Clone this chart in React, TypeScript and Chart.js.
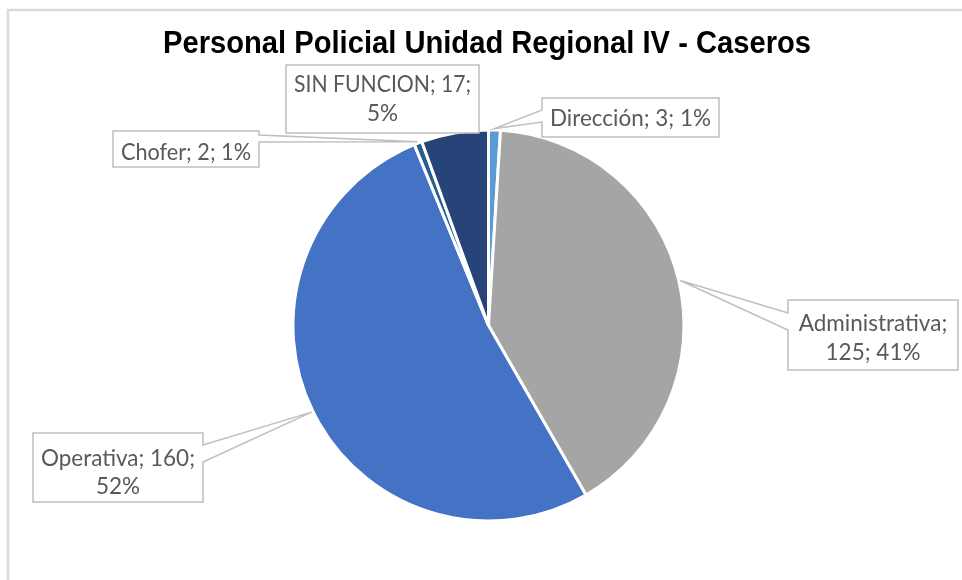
import React, { useEffect, useRef } from 'react';
import { Chart, registerables } from 'chart.js';

Chart.register(...registerables);

const TITLE = 'Personal Policial Unidad Regional IV - Caseros';
const categories = ['Dirección', 'Administrativa', 'Operativa', 'Chofer', 'SIN FUNCION'];
const values = [3, 125, 160, 2, 17];
const percentLabels = ['1%', '41%', '52%', '1%', '5%'];
const colors = ['#5B9BD5', '#A5A5A5', '#4472C4', '#255E91', '#264478'];

type Ptr = { side: 'left' | 'right' | 'top' | 'bottom'; a: number; b: number } | null;
type Layout = { box: [number, number, number, number]; split: number; baselines: number[]; pointer: Ptr };

const labelLayout: Layout[] = [
  { box: [542, 98, 177, 39], split: 3, baselines: [126], pointer: { side: 'left', a: 12, b: 24 } },
  { box: [788, 300, 170, 70], split: 1, baselines: [331, 360], pointer: { side: 'left', a: 13, b: 30 } },
  { box: [33, 433, 170, 69], split: 2, baselines: [466, 494], pointer: { side: 'right', a: 12, b: 29 } },
  { box: [113, 131, 146, 36], split: 3, baselines: [160], pointer: { side: 'right', a: 4, b: 11 } },
  { box: [286, 65, 193, 68], split: 2, baselines: [92, 121], pointer: null },
];

const LABEL_FONT = '22.5px Lato, "Open Sans", sans-serif';
const TITLE_FONT = 'bold 31px "Liberation Sans", Arial, sans-serif';

function drawCallout(ctx: CanvasRenderingContext2D, L: Layout, ax: number, ay: number) {
  const [x, y, w, h] = L.box;
  const p = L.pointer;
  ctx.beginPath();
  ctx.moveTo(x, y);
  if (p && p.side === 'top') { ctx.lineTo(x + p.a, y); ctx.lineTo(ax, ay); ctx.lineTo(x + p.b, y); }
  ctx.lineTo(x + w, y);
  if (p && p.side === 'right') { ctx.lineTo(x + w, y + p.a); ctx.lineTo(ax, ay); ctx.lineTo(x + w, y + p.b); }
  ctx.lineTo(x + w, y + h);
  if (p && p.side === 'bottom') { ctx.lineTo(x + p.b, y + h); ctx.lineTo(ax, ay); ctx.lineTo(x + p.a, y + h); }
  ctx.lineTo(x, y + h);
  if (p && p.side === 'left') { ctx.lineTo(x, y + p.b); ctx.lineTo(ax, ay); ctx.lineTo(x, y + p.a); }
  ctx.closePath();
  ctx.fillStyle = '#FFFFFF';
  ctx.fill();
  ctx.lineWidth = 1.5;
  ctx.strokeStyle = '#BFBFBF';
  ctx.lineJoin = 'miter';
  ctx.stroke();
}

const decorPlugin = {
  id: 'decor',
  beforeDraw(chart: any) {
    const ctx: CanvasRenderingContext2D = chart.ctx;
    ctx.save();
    ctx.strokeStyle = '#D9D9D9';
    ctx.lineWidth = 2.5;
    ctx.beginPath();
    ctx.moveTo(8, 580);
    ctx.lineTo(8, 10);
    ctx.lineTo(962, 10);
    ctx.stroke();
    ctx.fillStyle = '#000000';
    ctx.font = TITLE_FONT;
    ctx.textAlign = 'center';
    ctx.textBaseline = 'alphabetic';
    ctx.fillText(TITLE, 487, 53, 648);
    ctx.restore();
  },
  afterDraw(chart: any) {
    const ctx: CanvasRenderingContext2D = chart.ctx;
    const meta = chart.getDatasetMeta(0);
    ctx.save();
    labelLayout.forEach((L, i) => {
      const arc = meta.data[i];
      const { x, y, startAngle, endAngle, outerRadius } = arc.getProps(['x', 'y', 'startAngle', 'endAngle', 'outerRadius'], true);
      const mid = (startAngle + endAngle) / 2;
      const r = outerRadius + 1.5;
      const ax = x + Math.cos(mid) * r;
      const ay = y + Math.sin(mid) * r;
      drawCallout(ctx, L, ax, ay);
      const parts = [categories[i] + ';', values[i] + ';', percentLabels[i]];
      const lines = [parts.slice(0, L.split).join(' '), parts.slice(L.split).join(' ')].filter((s) => s.length > 0);
      ctx.fillStyle = '#595959';
      ctx.font = LABEL_FONT;
      ctx.textAlign = 'center';
      ctx.textBaseline = 'alphabetic';
      const cx = L.box[0] + L.box[2] / 2;
      lines.forEach((line, j) => {
        ctx.fillText(line, cx, L.baselines[j], L.box[2] - 16);
      });
    });
    ctx.restore();
  },
};

export default function App() {
  const ref = useRef<HTMLCanvasElement | null>(null);
  useEffect(() => {
    let chart: Chart | null = null;
    let cancelled = false;
    const make = () => {
      if (cancelled || !ref.current) return;
      chart = new Chart(ref.current, {
        type: 'pie',
        data: {
          labels: categories,
          datasets: [
            {
              data: values,
              backgroundColor: colors,
              borderColor: '#FFFFFF',
              borderWidth: 3,
            },
          ],
        },
        options: {
          responsive: false,
          maintainAspectRatio: false,
          animation: false,
          layout: { padding: { left: 291.5, right: 276.5, top: 128.5, bottom: 57.5 } },
          plugins: {
            legend: { display: false },
            tooltip: { enabled: false },
            title: { display: false },
          },
        },
        plugins: [decorPlugin],
      } as any);
    };
    const fontsApi = (document as any).fonts;
    if (fontsApi && fontsApi.load) {
      Promise.all([fontsApi.load(LABEL_FONT), fontsApi.load(TITLE_FONT)]).then(make, make);
    } else {
      make();
    }
    return () => {
      cancelled = true;
      if (chart) chart.destroy();
    };
  }, []);
  return (
    <div style={{ position: 'absolute', left: 0, top: 0, width: 962, height: 580, background: '#FFFFFF' }}>
      <canvas ref={ref} width={962} height={580} style={{ display: 'block', width: 962, height: 580 }} />
    </div>
  );
}
